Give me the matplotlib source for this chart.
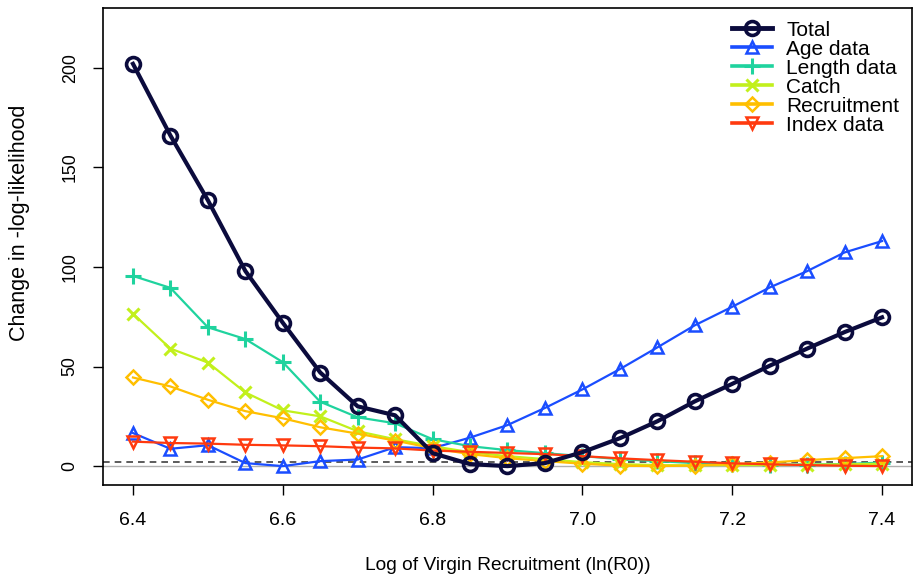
import numpy as np
import matplotlib.pyplot as plt

plt.rcParams['font.family'] = ['Liberation Sans', 'DejaVu Sans']

# profile over ln(R0)
r0 = [6.40, 6.45, 6.50, 6.55, 6.60, 6.65, 6.70, 6.75, 6.80, 6.85, 6.90,
      6.95, 7.00, 7.05, 7.10, 7.15, 7.20, 7.25, 7.30, 7.35, 7.40]

total = [202, 166, 133.5, 98, 72, 47, 30, 25.5, 6.5, 1, 0,
         1.5, 7, 14, 22.5, 32.5, 41.3, 50.4, 59, 67.3, 74.7]
age = [16.6, 8.7, 10.5, 1.5, 0, 2.5, 3.3, 9.5, 9, 14.3, 20.6,
       29.2, 38.5, 48.7, 59.6, 70.7, 80, 89.7, 97.9, 107.3, 113]
length = [95.5, 89.5, 69.7, 63.8, 52.2, 32.3, 24.5, 21.5, 13.5, 10, 8,
          6.5, 5, 3.5, 2.5, 1.5, 1, 0.8, 0.8, 1, 1.8]
catch = [76.5, 59, 52, 37, 28, 25, 17.5, 13.5, 10, 7, 5,
         3.5, 2, 1, 0.5, 0.4, 0.5, 0.5, 0.7, 0.9, 1.2]
recruit = [44.5, 40, 33.3, 27.6, 24, 19.5, 16.3, 12.8, 9, 6, 4,
           2.5, 1.2, 0.2, 0, 0.3, 1, 1.8, 3, 4, 5]
index = [12.3, 11.6, 11.3, 10.7, 10.4, 10, 9.3, 8.9, 7.8, 7.2, 6.6,
         6, 5, 3.9, 3, 2.2, 1.4, 0.9, 0.5, 0.2, 0]

names = ['Total', 'Age data', 'Length data', 'Catch', 'Recruitment', 'Index data']
xticks = [6.4, 6.6, 6.8, 7.0, 7.2, 7.4]
yticks = [0, 50, 100, 150, 200]

fig = plt.figure(figsize=(9.14, 5.77), dpi=100)
ax = fig.add_axes([0.1127, 0.1594, 0.8851, 0.8266])

ax.axhline(0, color='#b0b0b0', lw=1, zorder=1)
ax.axhline(1.92, color='#404040', lw=1.2, ls=(0, (4, 3)), zorder=1)

# components first, total on top
ax.plot(r0, age, color='#1a4dff', lw=1.6, marker='^', ms=9, mfc='none', mew=1.8, label=names[1], zorder=3)
ax.plot(r0, length, color='#1fd39e', lw=1.6, marker='+', ms=12, mew=2.2, label=names[2], zorder=3)
ax.plot(r0, catch, color='#c2f01c', lw=1.6, marker='x', ms=9, mew=2.2, label=names[3], zorder=3)
ax.plot(r0, recruit, color='#ffbf00', lw=1.6, marker='D', ms=7.5, mfc='none', mew=1.8, label=names[4], zorder=3)
ax.plot(r0, index, color='#ff3a0f', lw=1.6, marker='v', ms=9, mfc='none', mew=1.8, label=names[5], zorder=3)
ax.plot(r0, total, color='#0b0b3d', lw=3, marker='o', ms=10, mfc='none', mew=2.6, label=names[0], zorder=4)

ax.set_xlim(6.36, 7.44)
ax.set_ylim(-9.5, 230)
ax.set_xticks(xticks)
ax.set_xticklabels(['%.1f' % v for v in xticks])
ax.set_yticks(yticks)
ax.set_yticklabels([str(v) for v in yticks], rotation=90, va='center')
ax.tick_params(direction='out', length=7.5, width=1)
ax.tick_params(axis='x', labelsize=14, pad=12)
ax.tick_params(axis='y', labelsize=12.8, pad=10)
for s in ax.spines.values():
    s.set_linewidth(1.2)

ax.set_xlabel('Log of Virgin Recruitment (ln(R0))', fontsize=13.8, labelpad=20)
ax.set_ylabel('Change in -log-likelihood', fontsize=15.5)
ax.yaxis.set_label_coords(-0.09, 0.55)

handles, labels = ax.get_legend_handles_labels()
order = [5, 0, 1, 2, 3, 4]
leg = ax.legend([handles[i] for i in order], [labels[i] for i in order], loc='upper right',
                frameon=False, fontsize=15, handlelength=1.9, labelspacing=0.0,
                borderaxespad=0.2, handletextpad=0.7)
for h in leg.legend_handles:
    h.set_linewidth(2.6)
leg.legend_handles[0].set_linewidth(3.5)

fig.savefig('out.png', dpi=100)
